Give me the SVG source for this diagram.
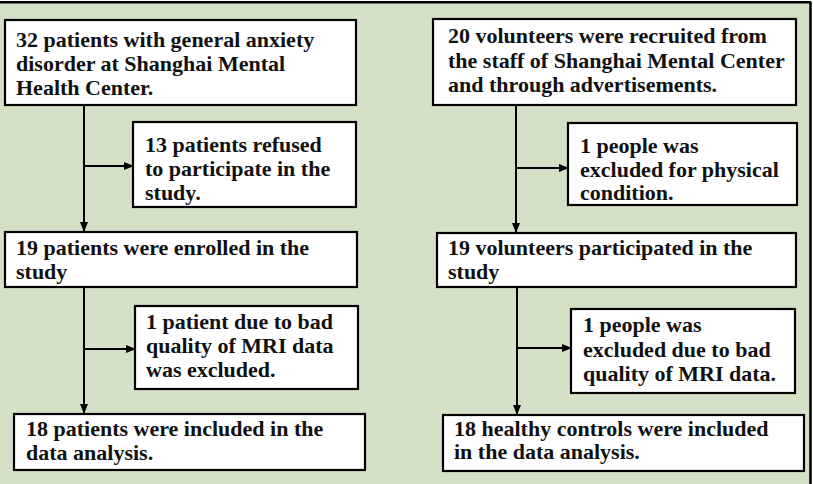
<svg xmlns="http://www.w3.org/2000/svg" width="813" height="484" viewBox="0 0 813 484">
<style>
.box{fill:#ffffff;stroke:#000000;stroke-width:2.2}
.t{font-family:"Liberation Serif","Times New Roman",serif;font-weight:bold;font-size:22px;fill:#111111}
.c{stroke:#000000;stroke-width:2;fill:none}
</style>
<defs>
<marker id="ah" markerWidth="10" markerHeight="10" refX="9" refY="5" orient="auto" markerUnits="userSpaceOnUse">
<path d="M0,1 L10,5 L0,9 Z" fill="#000000"/>
</marker>
</defs>
<rect x="0" y="0" width="813" height="484" fill="#ffffff"/>
<rect x="0" y="2" width="810" height="482" fill="#d5e1c6"/>
<path d="M0,2.2 H811 M810.5,2 V484" stroke="#000000" stroke-width="2.5" fill="none"/>
<g id="connectors">
<path class="c" d="M84,105 V231" marker-end="url(#ah)"/>
<path class="c" d="M84,166 H133" marker-end="url(#ah)"/>
<path class="c" d="M84,287 V413" marker-end="url(#ah)"/>
<path class="c" d="M84,349 H135" marker-end="url(#ah)"/>
<path class="c" d="M516,105 V232" marker-end="url(#ah)"/>
<path class="c" d="M516,168 H568" marker-end="url(#ah)"/>
<path class="c" d="M517,287 V414" marker-end="url(#ah)"/>
<path class="c" d="M517,348 H571" marker-end="url(#ah)"/>
</g>
<g id="n1">
<rect class="box" x="5" y="20" width="351" height="85"/>
<text class="t" x="16" y="47">32 patients with general anxiety</text>
<text class="t" x="16" y="71">disorder at Shanghai Mental</text>
<text class="t" x="16" y="95">Health Center.</text>
</g>
<g id="n2">
<rect class="box" x="133" y="122" width="223" height="85"/>
<text class="t" x="145" y="152">13 patients refused</text>
<text class="t" x="145" y="176">to participate in the</text>
<text class="t" x="145" y="200">study.</text>
</g>
<g id="n3">
<rect class="box" x="5" y="232" width="352" height="55"/>
<text class="t" x="16" y="255">19 patients were enrolled in the</text>
<text class="t" x="16" y="279">study</text>
</g>
<g id="n4">
<rect class="box" x="135" y="306" width="223" height="83"/>
<text class="t" x="146" y="329">1 patient due to bad</text>
<text class="t" x="146" y="353">quality of MRI data</text>
<text class="t" x="146" y="377">was excluded.</text>
</g>
<g id="n5">
<rect class="box" x="14" y="414" width="351" height="56"/>
<text class="t" x="26" y="436">18 patients were included in the</text>
<text class="t" x="26" y="460">data analysis.</text>
</g>
<g id="n6">
<rect class="box" x="433" y="19" width="363" height="86"/>
<text class="t" x="448" y="43">20 volunteers were recruited from</text>
<text class="t" x="448" y="68">the staff of Shanghai Mental Center</text>
<text class="t" x="448" y="92">and through advertisements.</text>
</g>
<g id="n7">
<rect class="box" x="568" y="123" width="229" height="82"/>
<text class="t" x="580" y="153">1 people was</text>
<text class="t" x="580" y="177">excluded for physical</text>
<text class="t" x="580" y="200">condition.</text>
</g>
<g id="n8">
<rect class="box" x="437" y="233" width="359" height="54"/>
<text class="t" x="448" y="255">19 volunteers participated in the</text>
<text class="t" x="448" y="279">study</text>
</g>
<g id="n9">
<rect class="box" x="571" y="309" width="224" height="84"/>
<text class="t" x="583" y="332">1 people was</text>
<text class="t" x="583" y="357">excluded due to bad</text>
<text class="t" x="583" y="381">quality of MRI data.</text>
</g>
<g id="n10">
<rect class="box" x="443" y="415" width="361" height="56"/>
<text class="t" x="454" y="436">18 healthy controls were included</text>
<text class="t" x="454" y="459">in the data analysis.</text>
</g>
</svg>
